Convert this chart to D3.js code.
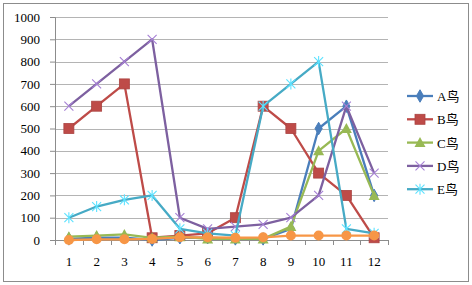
<!DOCTYPE html>
<html>
<head>
<meta charset="utf-8">
<script src="https://cdn.jsdelivr.net/npm/d3@7"></script>
<style>
  body { margin: 0; background: #fff; }
</style>
</head>
<body>
<div id="container"></div>
<script>
// DATA
const months = ["1", "2", "3", "4", "5", "6", "7", "8", "9", "10", "11", "12"];
const seriesNames = ["A鸟", "B鸟", "C鸟", "D鸟", "E鸟", ""];
const birdA = [5, 10, 10, 0, 10, 10, 5, 5, 50, 500, 600, 200];
const birdB = [500, 600, 700, 10, 20, 30, 100, 600, 500, 300, 200, 10];
const birdC = [15, 20, 25, 10, 15, 5, 5, 5, 60, 400, 500, 200];
const birdD = [600, 700, 800, 900, 100, 50, 60, 70, 100, 200, 600, 300];
const birdE = [100, 150, 180, 200, 50, 30, 20, 600, 700, 800, 50, 30];
const other = [0, 3, 3, 5, 12, 12, 10, 12, 20, 20, 20, 20];
const yTicks = [0, 100, 200, 300, 400, 500, 600, 700, 800, 900, 1000];

const W = 472, H = 285;
const margin = { top: 17, left: 55, right: 84, bottom: 45 };
const plotW = W - margin.left - margin.right;
const plotH = H - margin.top - margin.bottom;
const serif = "'Liberation Serif', 'Times New Roman', 'DejaVu Serif', serif";

const colors = ["#4A7EBB", "#BE4B48", "#98B954", "#7D60A0", "#46AAC5", "#F79646"];
const markers = ["diamond", "square", "triangle", "x", "star", "circle"];
const allSeries = [birdA, birdB, birdC, birdD, birdE, other];

const x = d3.scaleBand().domain(months).range([0, plotW]);
const y = d3.scaleLinear().domain([0, 1000]).range([plotH, 0]);

const svg = d3.select("#container").append("svg")
  .attr("width", W).attr("height", H);

// chart border
svg.append("rect")
  .attr("x", 3.5).attr("y", 3.5)
  .attr("width", W - 7).attr("height", H - 7)
  .attr("fill", "#fff").attr("stroke", "#8c8c8c");

const g = svg.append("g").attr("transform", `translate(${margin.left},${margin.top})`);

// gridlines
g.selectAll(".grid").data(yTicks.slice(1)).enter().append("line")
  .attr("x1", 0).attr("x2", plotW)
  .attr("y1", d => Math.round(y(d)) + 0.5).attr("y2", d => Math.round(y(d)) + 0.5)
  .attr("stroke", "#b4b4b4").attr("stroke-width", 1);

// y axis
const yAxis = g.append("g")
  .call(d3.axisLeft(y).tickValues(yTicks).tickFormat(d3.format("d")).tickSize(5).tickPadding(10))
  .attr("font-family", serif).attr("font-size", 13);
yAxis.select(".domain").attr("stroke", "#8c8c8c");
yAxis.selectAll(".tick line").attr("stroke", "#8c8c8c");
yAxis.selectAll("text").attr("fill", "#000");

// x axis
const xAxis = g.append("g").attr("transform", `translate(0,${plotH})`)
  .call(d3.axisBottom(x).tickSize(0).tickPadding(17))
  .attr("font-family", serif).attr("font-size", 13);
xAxis.select(".domain").attr("stroke", "#8c8c8c");
xAxis.selectAll("text").attr("fill", "#000");
// category boundary ticks
g.selectAll(".xtick").data(d3.range(months.length + 1)).enter().append("line")
  .attr("x1", i => Math.round(i * x.step()) + 0.5).attr("x2", i => Math.round(i * x.step()) + 0.5)
  .attr("y1", plotH).attr("y2", plotH + 5)
  .attr("stroke", "#8c8c8c");

const cx = (d, i) => x(months[i]) + x.bandwidth() / 2;

function drawMarker(sel, type, color) {
  if (type === "diamond") {
    sel.append("path").attr("d", d3.symbol(d3.symbolDiamond, 45)())
      .attr("fill", color).attr("stroke", color);
  } else if (type === "square") {
    sel.append("rect").attr("x", -5).attr("y", -5).attr("width", 10).attr("height", 10)
      .attr("fill", color).attr("stroke", d3.color(color).darker(0.3)).attr("stroke-width", 0.8);
  } else if (type === "triangle") {
    sel.append("path").attr("d", "M0,-5.5L5.5,4.5L-5.5,4.5Z").attr("fill", color);
  } else if (type === "x") {
    sel.append("path").attr("d", "M-4.5,-4.5L4.5,4.5M-4.5,4.5L4.5,-4.5")
      .attr("stroke", d3.color(color).brighter(0.8)).attr("stroke-width", 1.1).attr("fill", "none");
  } else if (type === "star") {
    sel.append("path").attr("d", "M-4.5,-4.5L4.5,4.5M-4.5,4.5L4.5,-4.5M0,-5.5L0,5.5")
      .attr("stroke", d3.color(color).brighter(0.8)).attr("stroke-width", 1.1).attr("fill", "none");
  } else if (type === "circle") {
    sel.append("circle").attr("r", 5).attr("fill", color);
  }
}

const line = d3.line().x(cx).y(d => y(d));

allSeries.forEach((vals, s) => {
  g.append("path").datum(vals)
    .attr("d", line)
    .attr("fill", "none")
    .attr("stroke", colors[s])
    .attr("stroke-width", 2.3)
    .attr("stroke-linejoin", "round");
  g.selectAll(".m" + s).data(vals).enter().append("g")
    .attr("class", "m" + s)
    .attr("transform", (d, i) => `translate(${cx(d, i)},${y(d)})`)
    .each(function () { drawMarker(d3.select(this), markers[s], colors[s]); });
});

// legend (only the named series)
const legend = svg.append("g").attr("transform", "translate(407,96)");
seriesNames.slice(0, 5).forEach((name, s) => {
  const row = legend.append("g").attr("transform", `translate(0,${s * 23.3})`);
  row.append("line").attr("x1", 0).attr("x2", 26).attr("y1", 0).attr("y2", 0)
    .attr("stroke", colors[s]).attr("stroke-width", 2.3);
  const m = row.append("g").attr("transform", "translate(13,0)");
  drawMarker(m, markers[s], colors[s]);
  row.append("text").attr("x", 30).attr("y", 5)
    .attr("font-family", serif + ", 'Noto Sans CJK SC'")
    .attr("font-size", 13).attr("fill", "#000").text(name);
});
</script>
</body>
</html>
